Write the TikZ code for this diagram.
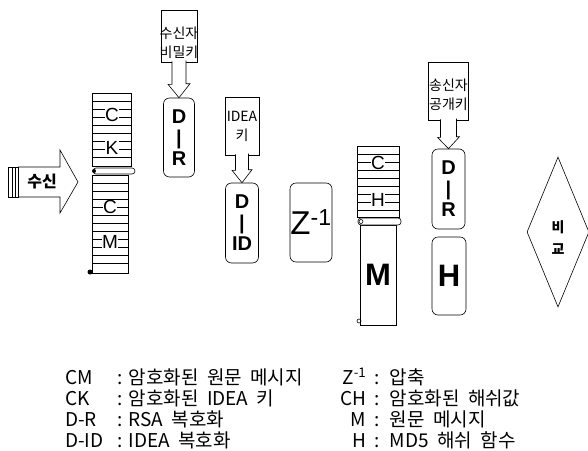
\documentclass[tikz,border=0pt]{standalone}
\usepackage{fontspec}
\setmainfont{Noto Sans CJK KR}[WordSpace=2]
\newfontfamily\lat{Liberation Sans}
\usetikzlibrary{shapes.geometric}

\begin{document}
\begin{tikzpicture}[x=1pt,y=-1pt,line width=0.6pt,
  box/.style={draw,rounded corners=6pt,inner sep=0pt,align=center,font=\lat\bfseries\fontsize{20}{21}\selectfont},
  bigbox/.style={box,font=\lat\fontsize{33}{33}\selectfont},
  keybox/.style={draw,inner sep=0pt},
  keytext/.style={inner sep=0pt,align=center,font=\fontsize{14}{19}\selectfont},
  stack/.style={draw,inner sep=0pt},
  letter/.style={fill=white,inner sep=0.5pt,font=\lat\fontsize{19}{19}\selectfont},
  legend/.style={anchor=west,inner sep=0pt,font=\fontsize{19}{19}\selectfont}]
  \useasboundingbox (0,0) rectangle (588,450);

  % receive arrow
  \draw (8,167) rectangle (18,197);
  \draw (12,167) -- (12,197) (15,167) -- (15,197);
  \draw (18,167) -- (60,167) -- (60,150) -- (78,182) -- (60,213) -- (60,197) -- (18,197);
  \node[font=\bfseries\fontsize{16}{16}\selectfont] (rx) at (42,182) {수신};

  % encrypted key and message
  \node[stack,minimum width=39pt,minimum height=73pt] (ck) at (111.5,129.5) {};
  \foreach \y in {101,109,...,161} \draw (92,\y) -- (131,\y);
  \node[letter] (ckc) at (112,115) {C};
  \node[letter] (ckk) at (112,148) {K};
  \node[stack,minimum width=36pt,minimum height=98pt] (cm) at (110,224) {};
  \foreach \y in {183,191,...,267} \draw (92,\y) -- (128,\y);
  \node[letter] (cmc) at (110,207) {C};
  \node[letter] (cmm) at (110,242) {M};
  \draw[fill=white,rounded corners=3pt] (93,168) rectangle (135,174);
  \fill (94,171) circle (2);
  \fill (90,272) circle (2.5);

  % keys and decryption
  \node[keybox,minimum width=36pt,minimum height=52pt] (sk) at (179,36) {};
  \node[keytext] (skt) at (179,43) {수신자\\비밀키};
  \node[box,minimum width=31pt,minimum height=79pt] (dr) at (179,137.5) {D\\|\\R};
  \draw[fill=white] ([xshift=-7pt,yshift=1pt]sk.south) -- ++(0,23) -- ++(-4,0)
    -- (dr.north) -- ++(11,-14) -- ++(-4,0) -- ++(0,-23);

  \node[keybox,minimum width=34pt,minimum height=58pt] (idea) at (242,126) {};
  \node[keytext] (ideat) at (242,126) {IDEA\\키};
  \node[box,minimum width=33pt,minimum height=80pt] (did) at (242,223) {D\\|\\ID};
  \draw[fill=white] ([xshift=-6.5pt,yshift=1pt]idea.south) -- ++(0,16) -- ++(-3.5,0)
    -- (did.north) -- ++(10,-13) -- ++(-3.5,0) -- ++(0,-16);

  \node[bigbox,minimum width=42pt,minimum height=79pt] (z) at (311,222.5) {Z\textsuperscript{-1}};

  % hash and message
  \node[stack,minimum width=42pt,minimum height=71pt] (ch) at (378,181.5) {};
  \foreach \y in {154,162,...,210} \draw (357,\y) -- (399,\y);
  \node[letter] (chc) at (378,163) {C};
  \node[letter] (chh) at (378,200) {H};
  \node[stack,minimum width=36pt,minimum height=100pt,font=\lat\bfseries\fontsize{31}{31}\selectfont] (m) at (378,275) {M};
  \draw[fill=white,rounded corners=3pt] (358,218) rectangle (401,225);
  \draw (361,221.5) circle (2);
  \draw (359,321) circle (2);

  \node[keybox,minimum width=40pt,minimum height=58pt] (pk) at (448.5,91) {};
  \node[keytext] (pkt) at (448.5,95) {송신자\\공개키};
  \node[box,minimum width=33pt,minimum height=80pt] (dr2) at (448.5,189) {D\\|\\R};
  \draw[fill=white] ([xshift=-8pt,yshift=1pt]pk.south) -- ++(0,18) -- ++(-3,0)
    -- (dr2.north) -- ++(11,-12) -- ++(-3,0) -- ++(0,-18);
  \node[box,minimum width=34pt,minimum height=78pt,font=\lat\bfseries\fontsize{31}{31}\selectfont] (h) at (449,276) {H};

  % compare
  \node[draw,diamond,inner sep=0pt,minimum width=62pt,minimum height=150pt] (cmp) at (558,232) {};
  \node[align=center,font=\bfseries\fontsize{14}{22}\selectfont] (cmpt) at (558,238) {비\\교};

  % legend
  \node[legend] (l1) at (65,377) {\makebox[52pt][l]{CM}:\hspace{6pt}암호화된 원문 메시지};
  \node[legend] (l2) at (65,398) {\makebox[52pt][l]{CK}:\hspace{6pt}암호화된 IDEA 키};
  \node[legend] (l3) at (65,419) {\makebox[52pt][l]{D-R}:\hspace{6pt}RSA 복호화};
  \node[legend] (l4) at (65,440) {\makebox[52pt][l]{D-ID}:\hspace{6pt}IDEA 복호화};
  \node[legend] (r1) at (340,377) {\makebox[26pt][r]{Z\textsuperscript{-1}}\hspace{8pt}:\hspace{10pt}압축};
  \node[legend] (r2) at (340,398) {\makebox[26pt][r]{CH}\hspace{8pt}:\hspace{10pt}암호화된 해쉬값};
  \node[legend] (r3) at (340,419) {\makebox[26pt][r]{M}\hspace{8pt}:\hspace{10pt}원문 메시지};
  \node[legend] (r4) at (340,440) {\makebox[26pt][r]{H}\hspace{8pt}:\hspace{10pt}MD5 해쉬 함수};
\end{tikzpicture}
\end{document}
